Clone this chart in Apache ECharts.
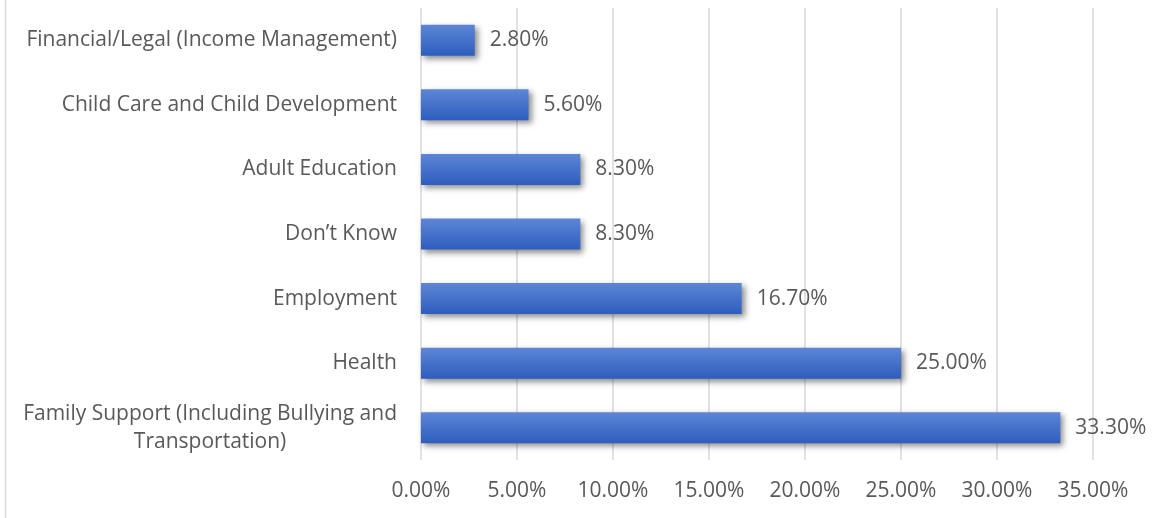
<!DOCTYPE html>
<html>
<head>
<meta charset="utf-8">
<script src="https://cdn.jsdelivr.net/npm/echarts@6/dist/echarts.min.js"></script>
<style>
html,body{margin:0;padding:0;background:#fff;}
#chart{width:1153px;height:518px;}
</style>
</head>
<body>
<div id="chart"></div>
<script>
const categories = [
  "Family Support (Including Bullying and\nTransportation)",
  "Health",
  "Employment",
  "Don’t Know",
  "Adult Education",
  "Child Care and Child Development",
  "Financial/Legal (Income Management)"
];
const values = [33.3, 25.0, 16.7, 8.3, 8.3, 5.6, 2.8];
const xTicks = { min: 0, max: 35, interval: 5 };

const FONT = 'Open Sans';
const FS = 21;
const TXT = '#595959';
const chart = echarts.init(document.getElementById('chart'));
chart.setOption({
  animation: false,
  grid: { left: 421, right: 60, top: 8, bottom: 58, containLabel: false },
  graphic: [{
    type: 'line', shape: { x1: 5.5, y1: 0, x2: 5.5, y2: 518 },
    style: { stroke: '#d9d9d9', lineWidth: 1.5 }
  }],
  xAxis: {
    type: 'value', min: xTicks.min, max: xTicks.max, interval: xTicks.interval,
    axisLine: { show: false }, axisTick: { show: false },
    splitLine: { show: true, lineStyle: { color: '#d9d9d9', width: 1.5 } },
    axisLabel: { color: TXT, fontFamily: FONT, fontSize: FS, margin: 21,
      formatter: v => v.toFixed(2) + '%' }
  },
  yAxis: {
    type: 'category', data: categories,
    axisLine: { show: false }, axisTick: { show: false },
    axisLabel: {
      color: TXT, fontFamily: FONT, fontSize: FS, margin: 24, lineHeight: 28,
      formatter: v => v.split('\n').map(s => '{c|' + s + '}').join('\n'),
      rich: { c: { align: 'center', color: TXT, fontFamily: FONT, fontSize: FS, lineHeight: 28 } }
    }
  },
  series: [{
    type: 'bar', data: values, barWidth: 31,
    itemStyle: {
      color: new echarts.graphic.LinearGradient(0, 0, 0, 1, [
        { offset: 0, color: '#5d86d6' },
        { offset: 1, color: '#2d5dbe' }
      ]),
      shadowColor: 'rgba(0,0,0,0.45)', shadowBlur: 6, shadowOffsetX: 3, shadowOffsetY: 3
    },
    label: {
      show: true, position: 'right', distance: 15, color: TXT,
      fontFamily: FONT, fontSize: FS,
      formatter: p => p.value.toFixed(2) + '%'
    }
  }]
});
</script>
</body>
</html>
